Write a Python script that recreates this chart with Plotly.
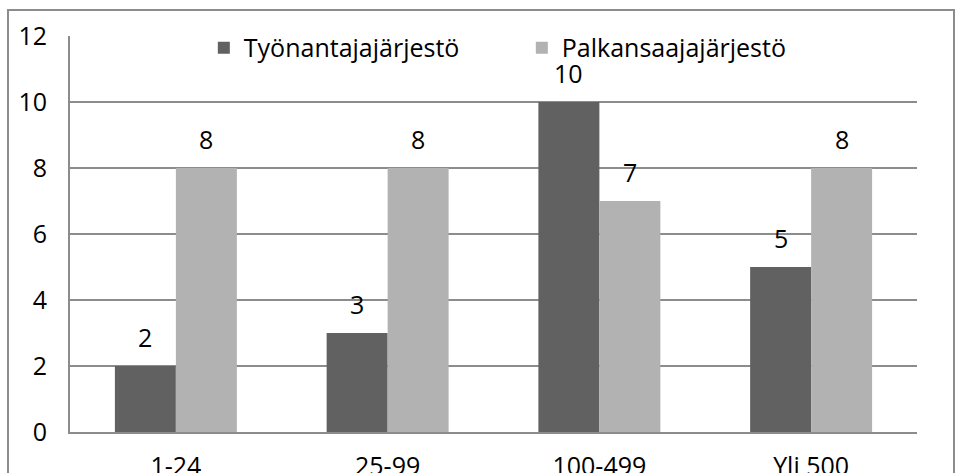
import numpy as np
import plotly.graph_objects as go

categories = ["1-24", "25-99", "100-499", "Yli 500"]
tyonantaja = [2, 3, 10, 5]
palkansaaja = [8, 8, 7, 8]
series_names = ["Työnantajajärjestö", "Palkansaajajärjestö"]
y_ticks = [0, 2, 4, 6, 8, 10, 12]

FONT = "Open Sans"
FS = 25
dark = "#616161"
light = "#b2b2b2"
grid = "#8c8c8c"

x = np.arange(len(categories))
w = 0.288
off = w / 2

fig = go.Figure()
fig.add_trace(go.Bar(x=x - off, y=tyonantaja, width=w, name=series_names[0],
                     marker=dict(color=dark, line=dict(width=0))))
fig.add_trace(go.Bar(x=x + off, y=palkansaaja, width=w, name=series_names[1],
                     marker=dict(color=light, line=dict(width=0))))

# data labels above bars
for xs, vals in [(x - off, tyonantaja), (x + off, palkansaaja)]:
    for xi, v in zip(xs, vals):
        fig.add_annotation(x=xi, y=v, text=str(v), showarrow=False,
                           yanchor="middle", yshift=29,
                           font=dict(family=FONT, size=FS, color="black"))

# outer chart border
fig.add_shape(type="rect", xref="paper", yref="paper",
              x0=-0.0732, x1=1.0437, y0=-0.3, y1=1.0657,
              line=dict(color=grid, width=2), layer="below")

fig.update_xaxes(range=[-0.5, 3.5], tickvals=x, ticktext=categories,
                 showgrid=False, showline=True, linecolor=grid, linewidth=2,
                 ticks="outside", ticklen=11, tickcolor="rgba(0,0,0,0)",
                 tickfont=dict(family=FONT, size=FS, color="black"),
                 zeroline=False, automargin=False)
fig.update_yaxes(range=[0, 12], tickvals=y_ticks, showgrid=True, gridcolor=grid,
                 gridwidth=1.5, showline=True, linecolor=grid, linewidth=2,
                 ticks="outside", ticklen=16, tickcolor="rgba(0,0,0,0)",
                 tickfont=dict(family=FONT, size=FS, color="black"),
                 zeroline=False, automargin=False)

fig.update_layout(
    width=955, height=473,
    margin=dict(l=70, r=38, t=36, b=41),
    plot_bgcolor="white", paper_bgcolor="white",
    barmode="overlay",
    showlegend=True,
    legend=dict(orientation="h", x=0.158, y=0.97, xanchor="left", yanchor="middle",
                bgcolor="rgba(0,0,0,0)", entrywidth=273, entrywidthmode="pixels",
                font=dict(family=FONT, size=FS, color="black"),
                itemwidth=30, traceorder="normal"),
)

fig.write_html("out.html", config={"displayModeBar": False},
               post_script="document.body.style.margin='0';document.body.style.overflow='hidden';")
